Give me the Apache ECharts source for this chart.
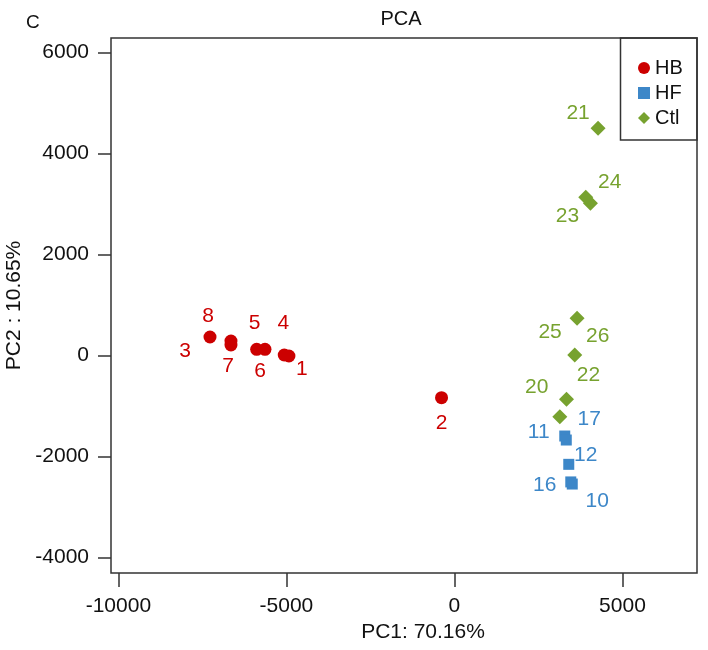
<!DOCTYPE html>
<html><head><meta charset="utf-8">
<script src="https://cdn.jsdelivr.net/npm/echarts@6/dist/echarts.min.js"></script>
<style>html,body{margin:0;padding:0;background:#fff}#c{width:708px;height:650px}</style>
</head><body><div id="c"></div>
<script>
// ---- data ----
const hbIds  = ['1', '2', '3', '4', '5', '6', '7', '8'];
const hbPC1  = [-4925, -384, -7274, -5065, -5885, -5638, -6650, -6650];
const hbPC2  = [-10, -835, 366, 10, 123, 123, 208, 287];
const hfIds  = ['10', '11', '12', '16', '17'];
const hfPC1  = [3506, 3283, 3402, 3462, 3328];
const hfPC2  = [-2543, -1593, -2153, -2501, -1672];
const ctlIds = ['20', '21', '22', '23', '24', '25', '26'];
const ctlPC1 = [3135, 4274, 3334, 4047, 3908, 3649, 3581];
const ctlPC2 = [-1211, 4495, -867, 3011, 3130, 736, 10];
const xTicks = [-10000, -5000, 0, 5000];
const yTicks = [-4000, -2000, 0, 2000, 4000, 6000];

// ---- label placement (styling, pixel offsets from each point) ----
const labelOffsets = {
  '1': [13, 13], '2': [0, 25], '3': [-25, 14], '4': [-1, -32], '5': [-2, -26],
  '6': [-5, 22], '7': [-3, 21], '8': [-23, -25],
  '10': [25, 17], '11': [-26, -4], '12': [17, -9], '16': [-26, 3], '17': [23, -21],
  '20': [-23, -30], '21': [-20, -15], '22': [22, -24], '23': [-23, 13], '24': [24, -15],
  '25': [-27, 14], '26': [23, -19]
};

const FONT = "'Liberation Sans', Arial, sans-serif";
const RED = '#cc0000', BLUE = '#3d87c8', GREEN = '#77a22f';

function build(ids, xs, ys) {
  return ids.map((id, i) => ({
    name: id,
    value: [xs[i], ys[i]],
    label: { offset: labelOffsets[id] }
  }));
}

function series(name, ids, xs, ys, color, symbol, size) {
  return {
    name, type: 'scatter', symbol, symbolSize: size,
    itemStyle: { color, opacity: 1 },
    data: build(ids, xs, ys),
    label: {
      show: true, position: 'inside', formatter: p => p.name,
      color, fontSize: 21, fontFamily: FONT, align: 'center', verticalAlign: 'middle'
    },
    emphasis: { disabled: true },
    animation: false
  };
}

const plain = v => String(v);

const chart = echarts.init(document.getElementById('c'), null, { renderer: 'canvas' });
chart.setOption({
  backgroundColor: '#fff',
  animation: false,
  title: [
    {
      text: 'PCA', left: 396, top: 4, textAlign: 'center',
      textStyle: { fontFamily: FONT, fontSize: 20, fontWeight: 'normal', color: '#111' }
    },
    {
      text: 'C', left: 21, top: 8,
      textStyle: { fontFamily: FONT, fontSize: 19, fontWeight: 'normal', color: '#111' }
    }
  ],
  grid: {
    left: 111, right: 11, top: 38, bottom: 77,
    outerBoundsMode: 'none', containLabel: false,
    show: true, borderColor: '#333', borderWidth: 1.5, backgroundColor: 'transparent'
  },
  xAxis: {
    type: 'value', min: -10220, max: 7218,
    name: 'PC1: 70.16%', nameLocation: 'middle', nameGap: 49,
    nameTextStyle: { fontFamily: FONT, fontSize: 21, color: '#111', padding: [0, 0, 0, 38] },
    axisLine: { show: false, onZero: false },
    axisTick: { show: true, customValues: xTicks, length: 14, lineStyle: { color: '#333', width: 1.5 } },
    axisLabel: { customValues: xTicks, formatter: plain, margin: 23, fontFamily: FONT, fontSize: 21, color: '#111' },
    splitLine: { show: false }
  },
  yAxis: {
    type: 'value', min: -4303, max: 6282,
    name: 'PC2 : 10.65%', nameLocation: 'middle', nameGap: 86,
    nameTextStyle: { fontFamily: FONT, fontSize: 21, color: '#111' },
    axisLine: { show: false, onZero: false },
    axisTick: { show: true, customValues: yTicks, length: 13, lineStyle: { color: '#333', width: 1.5 } },
    axisLabel: { customValues: yTicks, formatter: plain, margin: 22, fontFamily: FONT, fontSize: 21, color: '#111' },
    splitLine: { show: false }
  },
  legend: {
    orient: 'vertical', left: 633, top: 53,
    itemWidth: 12, itemHeight: 12, itemGap: 5,
    textStyle: { fontFamily: FONT, fontSize: 20, lineHeight: 20, color: '#111' },
    data: [
      { name: 'HB', icon: 'circle' },
      { name: 'HF', icon: 'rect' },
      { name: 'Ctl', icon: 'diamond' }
    ],
    selectedMode: false
  },
  graphic: [
    { type: 'rect', shape: { x: 620.5, y: 38, width: 76.5, height: 102 },
      style: { fill: 'none', stroke: '#333', lineWidth: 1.5 }, z: 100 }
  ],
  series: [
    series('HB', hbIds, hbPC1, hbPC2, RED, 'circle', 13),
    series('HF', hfIds, hfPC1, hfPC2, BLUE, 'rect', 11),
    series('Ctl', ctlIds, ctlPC1, ctlPC2, GREEN, 'diamond', 15)
  ]
});
</script></body></html>
